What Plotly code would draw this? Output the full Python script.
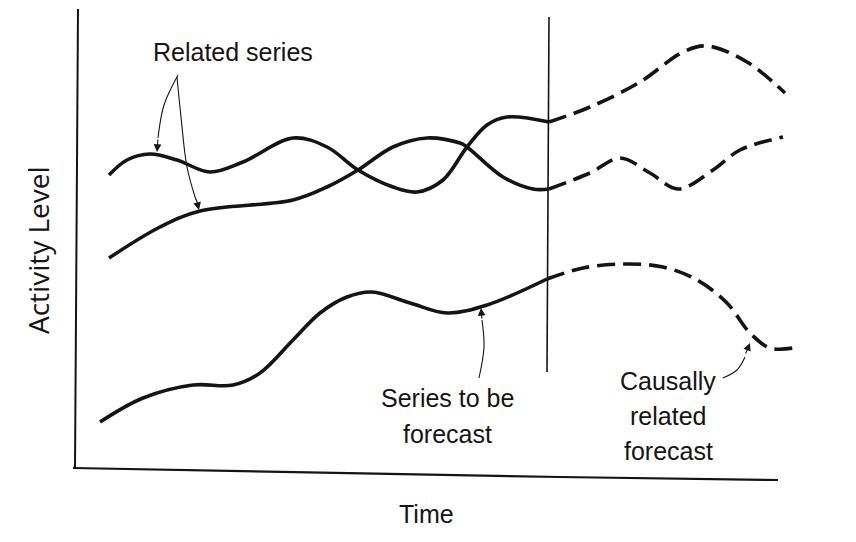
import plotly.graph_objects as go

# ---- data (time units along x, activity level along y) ----
# Related series 1 (upper start) - observed and forecast
rel1_t = [109, 127, 150, 177, 210, 243, 293, 327, 358, 393, 417, 443, 467, 487, 507, 549]
rel1_v = [367, 382, 388, 382, 370, 380, 404, 395, 372, 355, 350, 362, 395, 417, 425, 420]
rel1_ft = [549, 590, 640, 683, 707, 747, 785]
rel1_fv = [420, 435, 460, 490, 496, 480, 449]

# Related series 2 (lower start)
rel2_t = [109, 160, 200, 293, 327, 358, 393, 427, 460, 467, 503, 533, 549]
rel2_v = [284, 315, 331, 342, 355, 372, 395, 404, 399, 395, 365, 353, 353]
rel2_ft = [549, 590, 620, 650, 678, 713, 740, 783]
rel2_fv = [353, 369, 384, 369, 353, 372, 392, 405]

# Series to be forecast
main_t = [100, 143, 193, 233, 260, 293, 320, 347, 372, 410, 447, 487, 547]
main_v = [120, 144, 157, 157, 169, 202, 229, 245, 250, 239, 229, 237, 263]
main_ft = [547, 583, 623, 663, 697, 727, 750, 770, 793]
main_fv = [263, 274, 278, 275, 262, 239, 209, 194, 194]

# frame / divider
yaxis_t = [78, 75]
yaxis_v = [533, 73]
xaxis_t = [73, 560, 778]
xaxis_v = [74, 65, 62]
divider_t = [549, 547]
divider_v = [525, 170]

# labels (one entry per text line)
label_related = ["Related series"]
label_series = ["Series to be", "forecast"]
label_causal = ["Causally", "related", "forecast"]
label_x = "Time"
label_y = "Activity Level"

# pointer arrows: shaft points and (tip, tail) of heads
arr1_t = [178, 164, 158];  arr1_v = [467, 437, 404]
arr2_t = [177, 181, 187, 196]; arr2_v = [465, 425, 375, 342]
arr3_t = [479, 484, 482];  arr3_v = [164, 195, 222]
arr4_t = [723, 737, 745];  arr4_v = [164, 172, 185]
heads = [  # tip_t, tip_v, tail_t, tail_v
    (157, 390, 158, 404),
    (199, 332, 196, 344),
    (481, 234, 482, 222),
    (750, 199, 745, 187),
]

ink = "#141414"
fig = go.Figure()

def line(t, v, width, dash="solid"):
    fig.add_trace(go.Scatter(x=t, y=v, mode="lines",
                             line=dict(color=ink, width=width, dash=dash, shape="spline", smoothing=1.0),
                             hoverinfo="skip", showlegend=False))

# frame
line(yaxis_t, yaxis_v, 2)
line(xaxis_t, xaxis_v, 2.2)
line(divider_t, divider_v, 1.6)

# series
dash = "18px,8px"
line(rel1_t, rel1_v, 3.6)
line(rel1_ft, rel1_fv, 3.6, dash)
line(rel2_t, rel2_v, 3.6)
line(rel2_ft, rel2_fv, 3.6, dash)
line(main_t, main_v, 3.6)
line(main_ft, main_fv, 3.6, dash)

# arrow shafts
for t, v in [(arr1_t, arr1_v), (arr2_t, arr2_v), (arr3_t, arr3_v), (arr4_t, arr4_v)]:
    line(t, v, 1.1)

for tip_t, tip_v, tail_t, tail_v in heads:
    fig.add_annotation(x=tip_t, y=tip_v, ax=tail_t, ay=tail_v, xref="x", yref="y",
                       axref="x", ayref="y", text="", showarrow=True,
                       arrowhead=2, arrowsize=1.4, arrowwidth=1.1, arrowcolor=ink)

txt_font = dict(family="Liberation Sans, Arial", size=25, color=ink)

def label(lines, x, y_top, step=36):
    for i, s in enumerate(lines):
        fig.add_annotation(x=x, y=y_top - i * step, text=s, showarrow=False, font=txt_font)

label(label_related, 233, 490)
label(label_series, 447, 144)
label(label_causal, 668, 161, 35)
fig.add_annotation(x=426, y=28, text=label_x, showarrow=False, font=txt_font)
fig.add_annotation(x=38, y=292, text=label_y, showarrow=False, textangle=-90,
                   font=dict(family="Open Sans, Noto Sans", size=28, color=ink))

# page body has an 8px margin: shift ranges so marks land on page positions
fig.update_layout(
    width=856, height=542,
    margin=dict(l=0, r=0, t=0, b=0),
    paper_bgcolor="white", plot_bgcolor="white",
    xaxis=dict(range=[8, 864], visible=False, fixedrange=True),
    yaxis=dict(range=[-8, 534], visible=False, fixedrange=True),
)

fig.write_html("out.html")
